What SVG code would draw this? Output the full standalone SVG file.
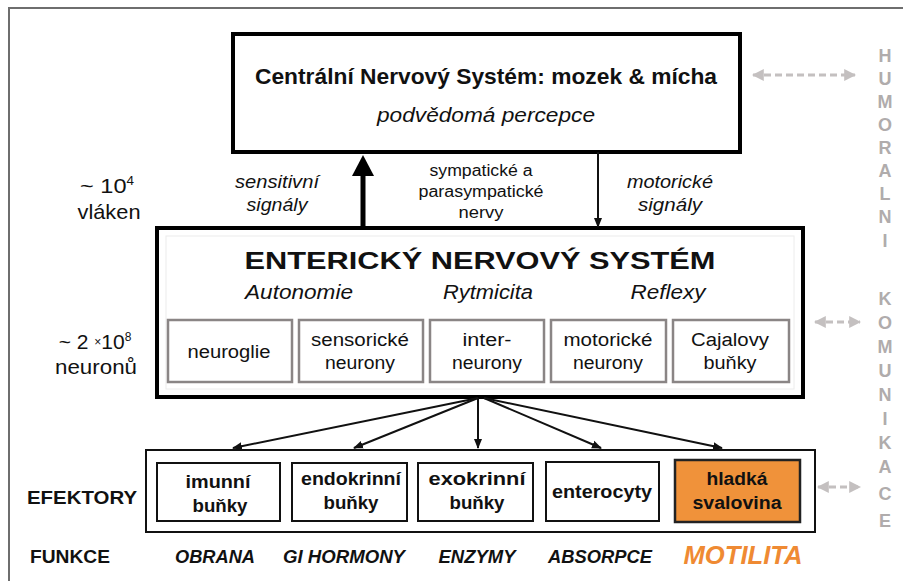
<svg xmlns="http://www.w3.org/2000/svg" width="903" height="581" viewBox="0 0 903 581">
<defs>
<style>
text{font-family:"Liberation Sans",Arial,sans-serif;fill:#111;text-anchor:middle}
.b{font-weight:bold}
.i{font-style:italic}
.thick{fill:#fff;stroke:#000;stroke-width:4}
.cell{fill:#fff;stroke:#8a8585;stroke-width:2.5}
.eff{fill:#fff;stroke:#111;stroke-width:2}
.side{fill:#b0acac;font-weight:bold;font-size:18px}
.conn{stroke:#111;stroke-width:2;fill:none}
.dash{stroke:#c4c0c0;stroke-width:3;stroke-dasharray:7 4;fill:none}
</style>
<marker id="ah" viewBox="0 0 10 10" refX="9" refY="5" markerWidth="5" markerHeight="5" orient="auto-start-reverse" markerUnits="strokeWidth">
<path d="M0,1 L10,5 L0,9 z" fill="#111"/>
</marker>
<marker id="ga" viewBox="0 0 10 10" refX="9" refY="5" markerWidth="4" markerHeight="4" orient="auto-start-reverse" markerUnits="strokeWidth">
<path d="M0,0 L10,5 L0,10 z" fill="#c4c0c0"/>
</marker>
</defs>
<rect width="903" height="581" fill="#fff"/>
<path d="M9,581 V8 H903" fill="none" stroke="#6e6e6e" stroke-width="2"/>

<g id="cns">
<rect class="thick" x="233" y="34" width="507" height="118"/>
<text class="b" x="486" y="84" font-size="22" textLength="462" lengthAdjust="spacingAndGlyphs">Centrální Nervový Systém: mozek &amp; mícha</text>
<text class="i" x="486" y="122" font-size="20" textLength="218" lengthAdjust="spacingAndGlyphs">podvědomá percepce</text>
</g>

<g id="labels-mid">
<text x="107" y="193" font-size="21" textLength="54" lengthAdjust="spacingAndGlyphs">~ 10<tspan font-size="12" dy="-8">4</tspan></text>
<text x="109" y="219" font-size="21" textLength="63" lengthAdjust="spacingAndGlyphs">vláken</text>
<text class="i" x="277" y="188" font-size="18" textLength="84" lengthAdjust="spacingAndGlyphs">sensitivní</text>
<text class="i" x="277" y="211" font-size="18" textLength="61" lengthAdjust="spacingAndGlyphs">signály</text>
<text x="481" y="176" font-size="16" textLength="103" lengthAdjust="spacingAndGlyphs">sympatické a</text>
<text x="481" y="197" font-size="16" textLength="125" lengthAdjust="spacingAndGlyphs">parasympatické</text>
<text x="481" y="218" font-size="16" textLength="45" lengthAdjust="spacingAndGlyphs">nervy</text>
<text class="i" x="670" y="188" font-size="18" textLength="86" lengthAdjust="spacingAndGlyphs">motorické</text>
<text class="i" x="670" y="211" font-size="18" textLength="64" lengthAdjust="spacingAndGlyphs">signály</text>
<text x="95" y="349" font-size="21">~ 2 <tspan font-size="12" dy="-3">×</tspan><tspan dy="3">10</tspan><tspan font-size="12" dy="-8">8</tspan></text>
<text x="96" y="374" font-size="21" textLength="82" lengthAdjust="spacingAndGlyphs">neuronů</text>
</g>

<g id="ens">
<rect class="thick" x="157" y="228" width="646" height="169"/>
<rect x="166" y="236" width="628" height="153" fill="none" stroke="#ececec" stroke-width="1"/>
<text class="b" x="480" y="269" font-size="24" textLength="471" lengthAdjust="spacingAndGlyphs">ENTERICKÝ NERVOVÝ SYSTÉM</text>
<text class="i" x="299" y="299" font-size="20" textLength="108" lengthAdjust="spacingAndGlyphs">Autonomie</text>
<text class="i" x="488" y="299" font-size="20" textLength="90" lengthAdjust="spacingAndGlyphs">Rytmicita</text>
<text class="i" x="668" y="299" font-size="20" textLength="75" lengthAdjust="spacingAndGlyphs">Reflexy</text>
</g>
<g id="neuroglie"><rect class="cell" x="168" y="320" width="124" height="62"/><text x="229" y="358" font-size="18" textLength="83" lengthAdjust="spacingAndGlyphs">neuroglie</text></g>
<g id="sensoricke"><rect class="cell" x="299" y="320" width="124" height="62"/><text x="360" y="346" font-size="18" textLength="98" lengthAdjust="spacingAndGlyphs">sensorické</text><text x="360" y="369" font-size="18" textLength="70" lengthAdjust="spacingAndGlyphs">neurony</text></g>
<g id="interneurony"><rect class="cell" x="430" y="320" width="114" height="62"/><text x="487" y="346" font-size="18" textLength="49" lengthAdjust="spacingAndGlyphs">inter-</text><text x="487" y="369" font-size="18" textLength="70" lengthAdjust="spacingAndGlyphs">neurony</text></g>
<g id="motoricke"><rect class="cell" x="551" y="320" width="115" height="62"/><text x="608" y="346" font-size="18" textLength="89" lengthAdjust="spacingAndGlyphs">motorické</text><text x="608" y="369" font-size="18" textLength="70" lengthAdjust="spacingAndGlyphs">neurony</text></g>
<g id="cajalovy"><rect class="cell" x="673" y="320" width="116" height="62"/><text x="730" y="346" font-size="18" textLength="78" lengthAdjust="spacingAndGlyphs">Cajalovy</text><text x="730" y="369" font-size="18" textLength="53" lengthAdjust="spacingAndGlyphs">buňky</text></g>

<g id="effectors">
<rect class="eff" x="146" y="450" width="669" height="82"/>
<text class="b" x="82" y="504" font-size="18" textLength="110" lengthAdjust="spacingAndGlyphs">EFEKTORY</text>
<text class="b" x="70" y="563" font-size="18" textLength="80" lengthAdjust="spacingAndGlyphs">FUNKCE</text>
</g>
<g id="imunni"><rect class="eff" x="157" y="463" width="123" height="58"/><text class="b" x="218" y="488" font-size="18" textLength="65" lengthAdjust="spacingAndGlyphs">imunní</text><text class="b" x="220" y="512" font-size="18" textLength="55" lengthAdjust="spacingAndGlyphs">buňky</text></g>
<g id="endokrinni"><rect class="eff" x="292" y="463" width="115" height="58"/><text class="b" x="351" y="485" font-size="18" textLength="100" lengthAdjust="spacingAndGlyphs">endokrinní</text><text class="b" x="351" y="509" font-size="18" textLength="55" lengthAdjust="spacingAndGlyphs">buňky</text></g>
<g id="exokrinni"><rect class="eff" x="418" y="463" width="115" height="58"/><text class="b" x="477" y="485" font-size="18" textLength="97" lengthAdjust="spacingAndGlyphs">exokrinní</text><text class="b" x="477" y="509" font-size="18" textLength="55" lengthAdjust="spacingAndGlyphs">buňky</text></g>
<g id="enterocyty"><rect class="eff" x="546" y="462" width="113" height="59"/><text class="b" x="602" y="498" font-size="18" textLength="100" lengthAdjust="spacingAndGlyphs">enterocyty</text></g>
<g id="hladka"><rect x="675" y="460" width="125" height="62" fill="#f0923a" stroke="#222" stroke-width="2.5"/><text class="b" x="737" y="485" font-size="18" textLength="61" lengthAdjust="spacingAndGlyphs">hladká</text><text class="b" x="737" y="509" font-size="18" textLength="89" lengthAdjust="spacingAndGlyphs">svalovina</text></g>

<g id="functions">
<text class="b i" x="215" y="563" font-size="18" textLength="80" lengthAdjust="spacingAndGlyphs">OBRANA</text>
<text class="b i" x="344" y="563" font-size="18" textLength="122" lengthAdjust="spacingAndGlyphs">GI HORMONY</text>
<text class="b i" x="477" y="563" font-size="18" textLength="77" lengthAdjust="spacingAndGlyphs">ENZYMY</text>
<text class="b i" x="600" y="563" font-size="18" textLength="104" lengthAdjust="spacingAndGlyphs">ABSORPCE</text>
<text class="b i" x="743" y="564" font-size="25" textLength="119" lengthAdjust="spacingAndGlyphs" style="fill:#ef8a33">MOTILITA</text>
</g>

<g id="connectors">
<line x1="363" y1="228" x2="363" y2="172" stroke="#000" stroke-width="5"/>
<path d="M352,176 L363,155 L374,176 z" fill="#000"/>
<line x1="598" y1="152" x2="598" y2="227" stroke="#111" stroke-width="2" marker-end="url(#ah)"/>
<line class="conn" x1="478" y1="398" x2="233" y2="448" marker-end="url(#ah)"/>
<line class="conn" x1="478" y1="398" x2="354" y2="448" marker-end="url(#ah)"/>
<line class="conn" x1="478" y1="398" x2="478" y2="448" marker-end="url(#ah)"/>
<line class="conn" x1="484" y1="398" x2="601" y2="448" marker-end="url(#ah)"/>
<line class="conn" x1="484" y1="398" x2="722" y2="448" marker-end="url(#ah)"/>
<line class="dash" x1="753" y1="75" x2="855" y2="75" marker-start="url(#ga)" marker-end="url(#ga)"/>
<line class="dash" x1="815" y1="322" x2="860" y2="322" marker-start="url(#ga)" marker-end="url(#ga)"/>
<line class="dash" x1="818" y1="487" x2="860" y2="487" marker-start="url(#ga)" marker-end="url(#ga)"/>
</g>

<g id="humoral">
<text class="side" x="885" y="62">H</text>
<text class="side" x="885" y="85">U</text>
<text class="side" x="885" y="108">M</text>
<text class="side" x="885" y="131">O</text>
<text class="side" x="885" y="154">R</text>
<text class="side" x="885" y="177">A</text>
<text class="side" x="885" y="200">L</text>
<text class="side" x="885" y="223">N</text>
<text class="side" x="885" y="247">I</text>
<text class="side" x="885" y="305">K</text>
<text class="side" x="885" y="329">O</text>
<text class="side" x="885" y="353">M</text>
<text class="side" x="885" y="377">U</text>
<text class="side" x="885" y="401">N</text>
<text class="side" x="885" y="425">I</text>
<text class="side" x="885" y="449">K</text>
<text class="side" x="885" y="473">A</text>
<text class="side" x="885" y="500">C</text>
<text class="side" x="885" y="527">E</text>
</g>
</svg>
